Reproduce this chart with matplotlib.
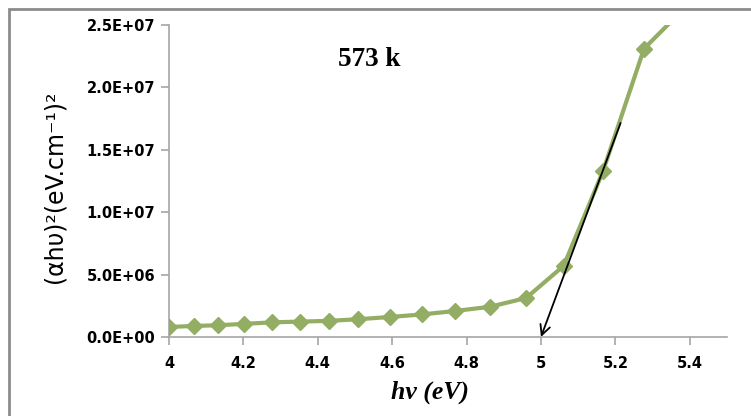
import matplotlib
matplotlib.use("Agg")
import matplotlib.pyplot as plt
from matplotlib.patches import Rectangle

# photon energy (eV) and (alpha h nu)^2
hv = [4.000, 4.066, 4.133, 4.203, 4.276, 4.351, 4.429, 4.509, 4.593,
      4.679, 4.769, 4.863, 4.960, 5.061, 5.167, 5.277, 5.391]
ahv2 = [8.0e5, 8.8e5, 9.4e5, 1.05e6, 1.17e6, 1.23e6, 1.29e6, 1.42e6, 1.6e6,
        1.8e6, 2.08e6, 2.42e6, 3.12e6, 5.7e6, 1.33e7, 2.31e7, 2.65e7]

# tangent used to read the band gap
tan_x = [5.214, 5.0]
tan_y = [1.715e7, 0.0]

xticks = [4, 4.2, 4.4, 4.6, 4.8, 5, 5.2, 5.4]
xlabels = ['4', '4.2', '4.4', '4.6', '4.8', '5', '5.2', '5.4']
yticks = [0, 5e6, 1e7, 1.5e7, 2e7, 2.5e7]
ylabels = ['0.0E+00', '5.0E+06', '1.0E+07', '1.5E+07', '2.0E+07', '2.5E+07']

green = '#93ad65'
grey = '#a6a6a6'

fig = plt.figure(figsize=(7.51, 4.16), dpi=100)
ax = fig.add_axes([0.225, 0.19, 0.743, 0.75])

ax.plot(hv, ahv2, color=green, lw=3, marker='D', markersize=8,
        markeredgecolor=green, clip_on=True, zorder=3)

ax.annotate('', xy=(tan_x[1], tan_y[1]), xytext=(tan_x[0], tan_y[0]),
            arrowprops=dict(arrowstyle='->', color='black', lw=1.3,
                            mutation_scale=18, shrinkA=0, shrinkB=0),
            zorder=4, annotation_clip=False)

ax.set_xlim(4, 5.5)
ax.set_ylim(0, 2.5e7)
ax.set_xticks(xticks)
ax.set_xticklabels(xlabels, fontweight='bold', fontsize=10.5)
ax.set_yticks(yticks)
ax.set_yticklabels(ylabels, fontweight='bold', fontsize=10.5)

for s in ['top', 'right']:
    ax.spines[s].set_visible(False)
for s in ['left', 'bottom']:
    ax.spines[s].set_color(grey)
    ax.spines[s].set_linewidth(1.2)
ax.tick_params(axis='both', direction='out', color=grey, length=6, width=1.2)
ax.tick_params(axis='x', pad=8)
ax.tick_params(axis='y', pad=4)

ax.text(4.539, 2.22e7, '573 k', family='Liberation Serif',
        fontweight='bold', fontsize=19.5, ha='center', va='center')

fig.text(0.572, 0.058, 'h\u03bd (eV)', family='Liberation Serif',
         fontweight='bold', style='italic', fontsize=18.5, ha='center', va='center')
fig.text(0.073, 0.55, '(\u03b1h\u03c5)\u00b2(eV.cm\u207b\u00b9)\u00b2',
         fontsize=17, rotation=90, ha='center', va='center')

# outer chart frame
fig.patches.append(Rectangle((9 / 751, -0.1), 1.2, 1 - 9 / 416 + 0.1,
                             transform=fig.transFigure, fill=False,
                             edgecolor='#8c8c8c', lw=2))

fig.savefig('out.png', dpi=100)
